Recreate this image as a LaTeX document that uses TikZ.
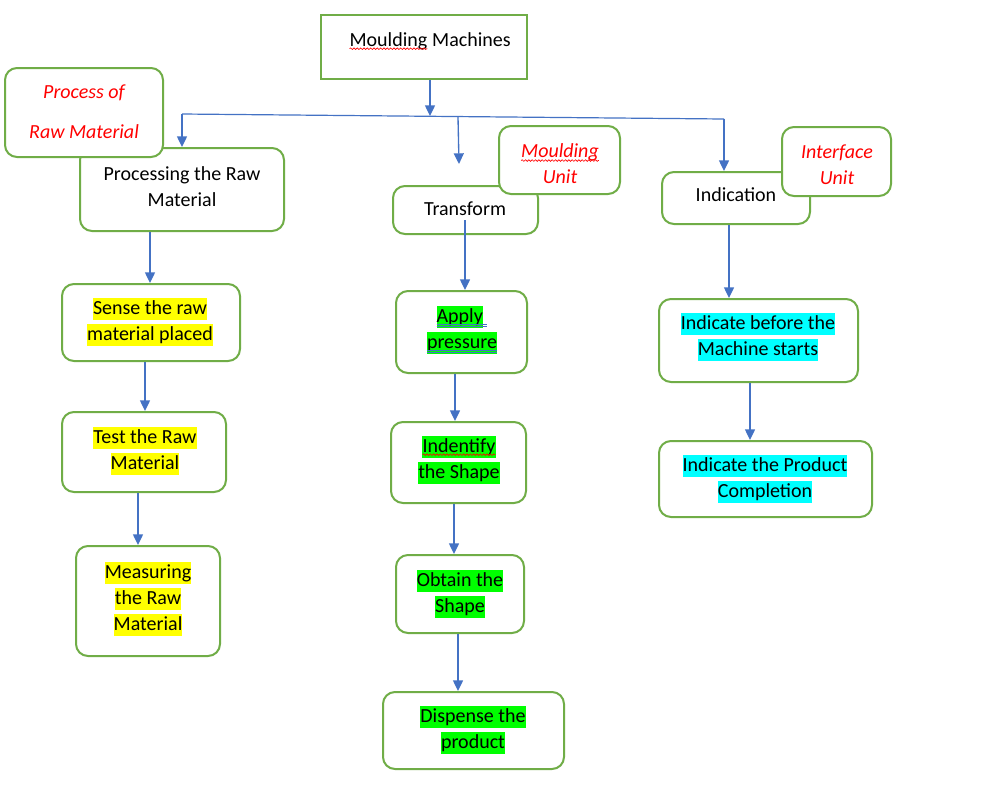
\documentclass[tikz,border=0pt]{standalone}
\usepackage{fontspec}
\setmainfont{Carlito}
\usetikzlibrary{fit,arrows.meta,decorations.pathmorphing}
\definecolor{bgreen}{HTML}{70AD47}
\definecolor{ablue}{HTML}{4472C4}
\definecolor{hly}{HTML}{FFFF00}
\definecolor{hlg}{HTML}{00FF00}
\definecolor{hlc}{HTML}{00FFFF}
\definecolor{lred}{HTML}{FF0000}
\newcommand\hlbox[2]{{\setlength{\fboxsep}{0pt}\colorbox{#1}{\rule[-4.5pt]{0pt}{16.5pt}#2}}}
\newcommand\hy[1]{\hlbox{hly}{#1}}
\newcommand\hg[1]{\hlbox{hlg}{#1}}
\newcommand\hc[1]{\hlbox{hlc}{#1}}
\newcommand\wavy[1]{\tikz[baseline=(w.base)]{\node[inner sep=0pt,outer sep=0pt,anchor=base](w){#1};\draw[lred,line width=0.5pt,decorate,decoration={snake,amplitude=0.6pt,segment length=2.5pt}]([yshift=-2pt]w.base west)--([yshift=-2pt]w.base east);}}
\newcommand\dul[1]{\tikz[baseline=(w.base)]{\node[inner sep=0pt,outer sep=0pt,anchor=base](w){#1};\draw[ablue,line width=0.5pt]([yshift=-1.6pt]w.base west)--([yshift=-1.6pt]w.base east) ([yshift=-2.9pt]w.base west)--([yshift=-2.9pt]w.base east);}}
\begin{document}
\begin{tikzpicture}[x=0.75pt,y=-0.75pt,
  txt/.style={font=\fontsize{15}{19.5}\selectfont, align=center, inner sep=0pt},
  lbl/.style={txt, text=lred, font=\fontsize{15}{19.5}\selectfont\itshape},
  box/.style={draw=bgreen, line width=1.5pt, rounded corners=9pt, fill=white, inner sep=0pt},
  sbox/.style={box, rounded corners=0pt},
  arr/.style={draw=ablue, line width=1pt, -{Triangle[width=7.5pt,length=8pt]}},
  bus/.style={draw=ablue, line width=0.9pt}]
\useasboundingbox (0,0) rectangle (1003,790);
\fill[white] (0,0) rectangle (1003,790);

% boxes
\node[sbox, fit={(321,15) (527,79)}] (mm) {};
\node[box, fit={(80,148) (284,231)}] (prw) {};
\node[box, fit={(5,68) (163,157)}] (proc) {};
\node[box, fit={(62,284) (240,361)}] (sense) {};
\node[box, fit={(62,412) (226,492)}] (test) {};
\node[box, fit={(76,546) (220,656)}] (meas) {};
\node[box, fit={(393,186) (538,234)}] (trans) {};
\node[box, fit={(499,126) (620,194)}] (mu) {};
\node[box, fit={(396,291) (527,373)}] (apply) {};
\node[box, fit={(391,422) (526,503)}] (ident) {};
\node[box, fit={(396,555) (524,633)}] (obtain) {};
\node[box, fit={(383,692) (564,769)}] (disp) {};
\node[box, fit={(662,172) (810,224)}] (indic) {};
\node[box, fit={(782,127) (891,196)}] (iu) {};
\node[box, fit={(659,299) (858,382)}] (before) {};
\node[box, fit={(659,441) (872,517)}] (compl) {};

% texts
\node[txt] (mmt) at (430,41) {\wavy{Moulding} Machines};
\node[lbl] (proct) at (84,112) {Process of\\[10.5pt]Raw Material};
\node[txt] (prwt) at (182,187) {Processing the Raw\\Material};
\node[txt] (senset) at (150,322) {\hy{Sense the raw}\\\hy{material placed}};
\node[txt] (testt) at (145,451) {\hy{Test the Raw}\\\hy{Material}};
\node[txt] (meast) at (148,599) {\hy{Measuring}\\\hy{the Raw}\\\hy{Material}};
\node[txt] (transt) at (465,209) {Transform};
\node[lbl] (mut) at (560,164) {\wavy{Moulding}\\Unit};
\node[txt] (applyt) at (462,330) {\dul{\hg{Apply}\ }\\\dul{\hg{pressure}}};
\node[txt] (identt) at (459,460) {\hg{\wavy{Indentify}}\\\hg{the Shape}};
\node[txt] (obtaint) at (460,594) {\hg{Obtain the}\\\hg{Shape}};
\node[txt] (dispt) at (473,730) {\hg{Dispense the}\\\hg{product}};
\node[txt] (indict) at (736,195) {Indication};
\node[lbl] (iut) at (837,165) {Interface\\Unit};
\node[txt] (beforet) at (758,337) {\hc{Indicate before the}\\\hc{Machine starts}};
\node[txt] (complt) at (765,479) {\hc{Indicate the Product}\\\hc{Completion}};

% bus and connectors
\coordinate (busL) at (182,114);
\coordinate (busC) at (430,116);
\coordinate (busM) at (458,117);
\coordinate (busR) at (724,119);
\coordinate (tEnd) at (459,164);
\coordinate (tStart) at (465,220);
\draw[bus] (busL) -- (busR);
\draw[arr] (mm.south -| busC) -- (busC);
\draw[arr] (busL) -- (prw.north -| busL);
\draw[arr] (busM) -- (tEnd);
\draw[arr] (busR) -- (indic.north -| busR);
\draw[arr] (prw.south -| 150,0) -- (sense.north -| 150,0);
\draw[arr] (sense.south -| 145,0) -- (test.north -| 145,0);
\draw[arr] (test.south -| 138,0) -- (meas.north -| 138,0);
\draw[arr] (tStart) -- (apply.north -| tStart);
\draw[arr] (apply.south -| 455,0) -- (ident.north -| 455,0);
\draw[arr] (ident.south -| 454,0) -- (obtain.north -| 454,0);
\draw[arr] (obtain.south -| 458,0) -- (disp.north -| 458,0);
\draw[arr] (indic.south -| 729,0) -- (before.north -| 729,0);
\draw[arr] (before.south -| 750,0) -- (compl.north -| 750,0);
\end{tikzpicture}
\end{document}
